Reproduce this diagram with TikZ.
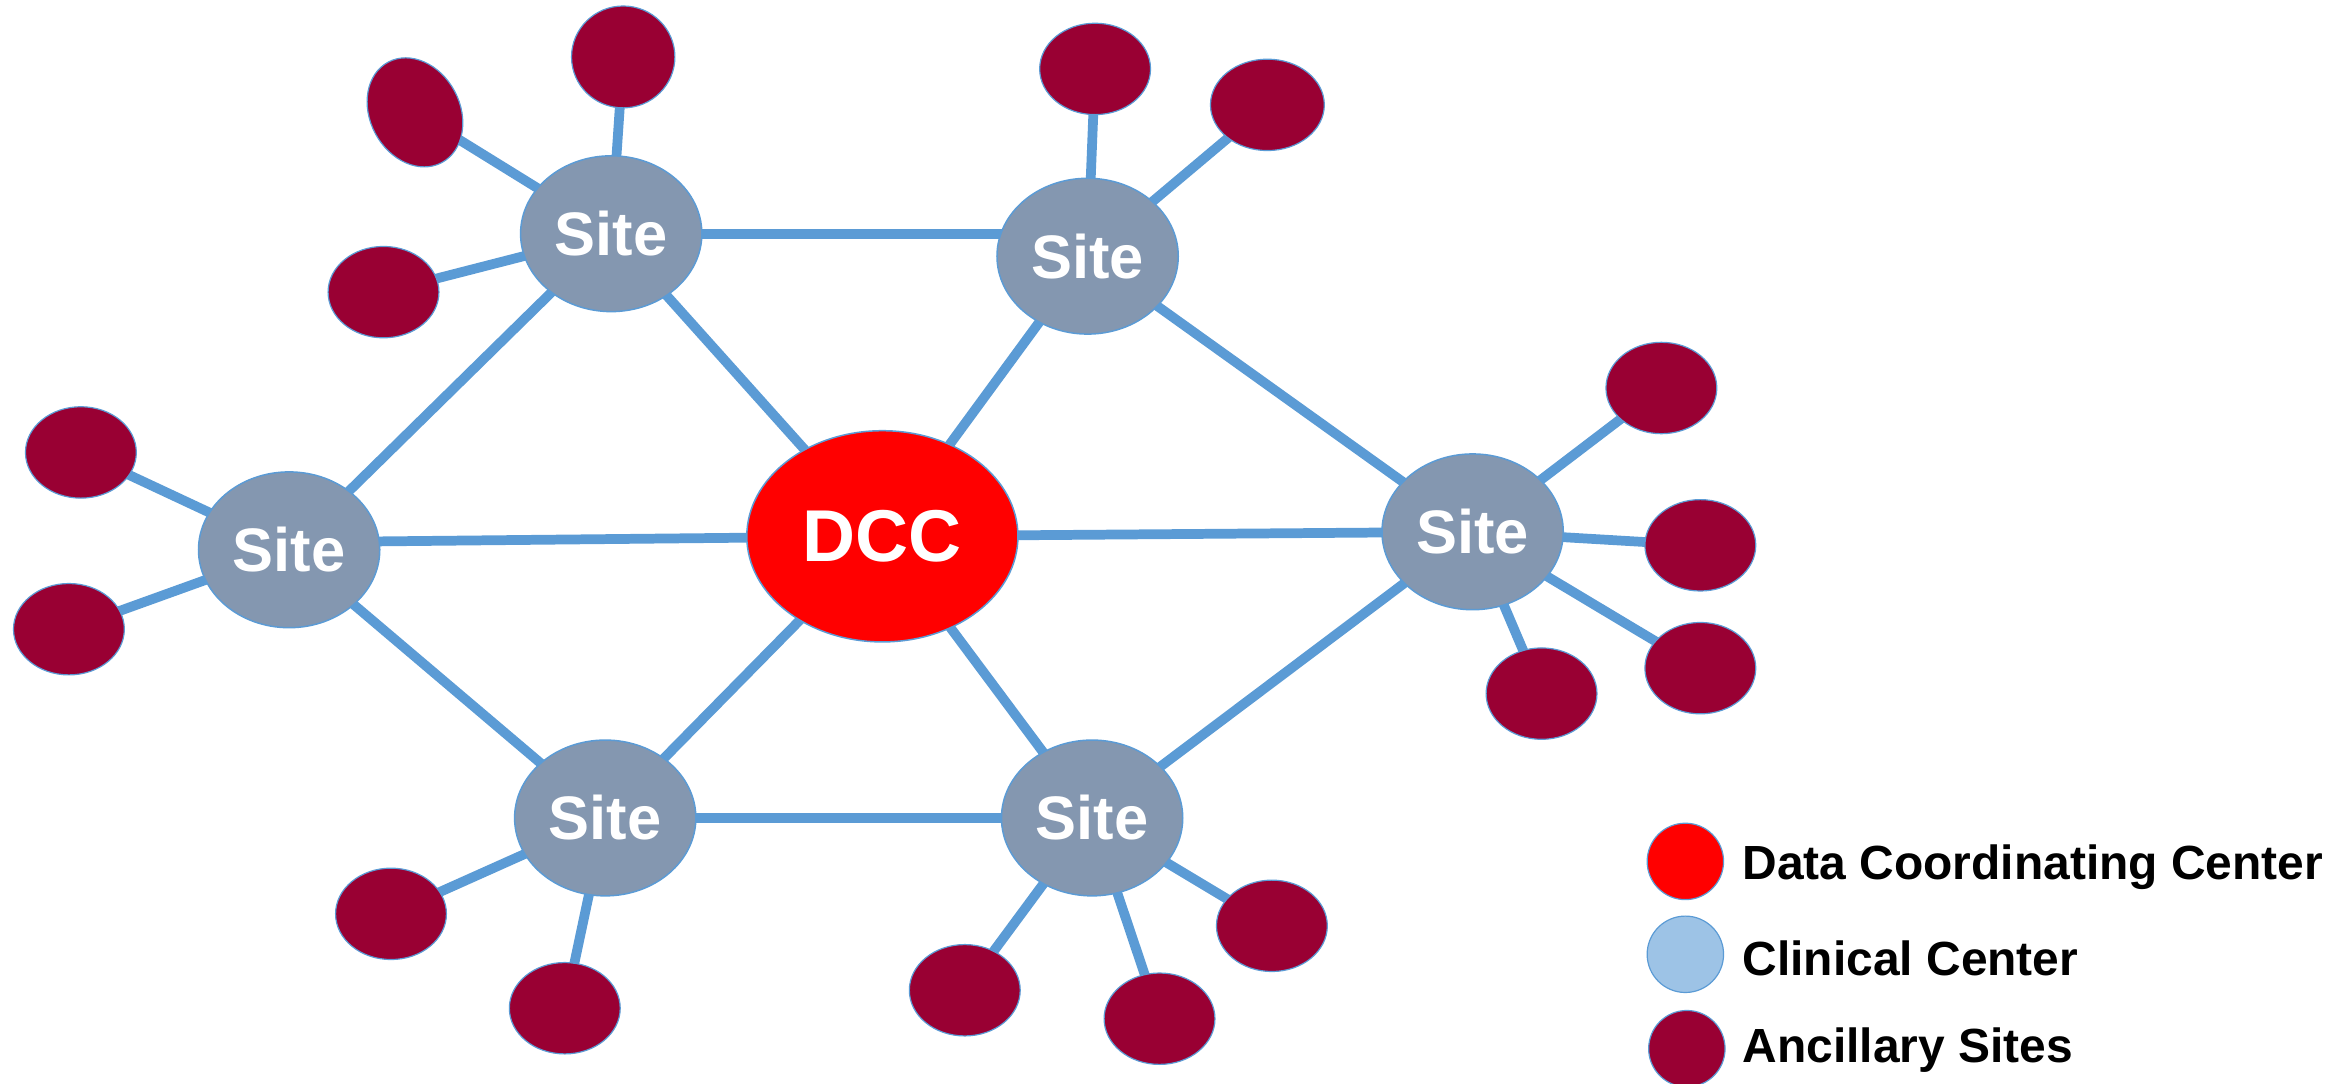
\documentclass[tikz,border=0pt]{standalone}
\usepackage{fontspec}
\setmainfont{Liberation Sans}
\usetikzlibrary{shapes.geometric,backgrounds}
\definecolor{linkblue}{HTML}{5B9BD5}
\definecolor{sitegray}{HTML}{8497B0}
\definecolor{ancred}{HTML}{990033}
\definecolor{dccred}{HTML}{FF0000}
\definecolor{clinblue}{HTML}{9DC3E6}
\tikzset{
  sitenode/.style={ellipse, draw=linkblue, line width=1pt, fill=sitegray, inner sep=0pt,
    minimum width=121pt, minimum height=104pt, text=white,
    font=\fontsize{41}{41}\selectfont\bfseries},
  dccnode/.style={ellipse, draw=linkblue, line width=1pt, fill=dccred, inner sep=0pt,
    minimum width=181pt, minimum height=141pt, text=white,
    font=\fontsize{49}{49}\selectfont\bfseries},
  ancnode/.style={ellipse, draw=linkblue, line width=0.8pt, fill=ancred, inner sep=0pt,
    minimum width=74pt, minimum height=61pt},
  legdot/.style={circle, draw=linkblue, line width=0.8pt, inner sep=0pt, minimum size=51pt},
  legtext/.style={anchor=west, inner sep=0pt, font=\fontsize{32}{32}\selectfont\bfseries},
  link/.style={draw=linkblue, line width=6.5pt}
}
\begin{document}
\begin{tikzpicture}[x=1pt,y=-1pt]
\useasboundingbox (0,0) rectangle (1568,723);
% main nodes
\node[dccnode] (dcc) at (589,358) {DCC};
\node[sitenode] (stl) at (408,156) {Site};
\node[sitenode] (str) at (726,171) {Site};
\node[sitenode] (sl) at (193,367) {Site};
\node[sitenode] (sr) at (983,355) {Site};
\node[sitenode] (sbl) at (404,546) {Site};
\node[sitenode] (sbr) at (729,546) {Site};
% ancillary nodes
\node[ancnode, minimum width=69pt, minimum height=68pt] (a1) at (416,38) {};
\node[ancnode, minimum width=60pt, minimum height=76pt, rotate=28] (a2) at (277,75) {};
\node[ancnode] (a3) at (256,195) {};
\node[ancnode] (a4) at (54,302) {};
\node[ancnode] (a5) at (46,420) {};
\node[ancnode] (a6) at (261,610) {};
\node[ancnode] (a7) at (377,673) {};
\node[ancnode] (a8) at (644,661) {};
\node[ancnode] (a9) at (774,680) {};
\node[ancnode] (a10) at (849,618) {};
\node[ancnode] (a11) at (1109,259) {};
\node[ancnode] (a12) at (1135,364) {};
\node[ancnode] (a13) at (1135,446) {};
\node[ancnode] (a14) at (1029,463) {};
\node[ancnode] (a15) at (731,46) {};
\node[ancnode, minimum width=76pt] (a16) at (846,70) {};
% links
\begin{scope}[on background layer]
\draw[link] (stl.center) -- (str.center |- stl.center);
\draw[link] (sl.center) ++(0,-5) -- (dcc.center);
\foreach \a/\b in {stl/dcc, stl/sl, str/dcc, str/sr, 
  dcc/sr, dcc/sbl, dcc/sbr, sbl/sbr, sbr/sr, sl/sbl,
  stl/a1, stl/a2, stl/a3, sl/a4, sl/a5, sbl/a6, sbl/a7, sbr/a8, sbr/a9, sbr/a10,
  sr/a11, sr/a12, sr/a13, sr/a14, str/a15, str/a16}
  \draw[link] (\a.center) -- (\b.center);
\end{scope}
% legend
\node[legdot, fill=dccred] (l1) at (1125,575) {};
\node[legdot, fill=clinblue] (l2) at (1125,637) {};
\node[legdot, fill=ancred] (l3) at (1126,700) {};
\node[legtext] (t1) at (1163,579) {Data Coordinating Center};
\node[legtext] (t2) at (1163,640) {Clinical Center};
\node[legtext] (t3) at (1163,701) {Ancillary Sites};
\end{tikzpicture}
\end{document}
